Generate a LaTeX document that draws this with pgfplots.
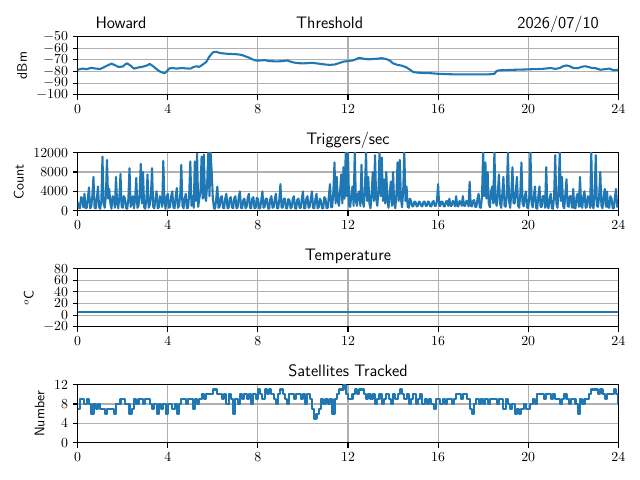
\documentclass[border=0pt]{standalone}
\usepackage{pgfplots}
\pgfplotsset{compat=1.18}
\definecolor{c0}{HTML}{1F77B4}
\definecolor{gridc}{HTML}{B0B0B0}
\newcommand{\fs}{\fontsize{10}{12}\selectfont}
\newcommand{\ft}{\fontsize{12}{14}\selectfont}
\pgfplotsset{
  panel/.style={
    scale only axis, width=5.406in, height=0.58in, anchor=south west,
    xmin=0, xmax=24, xtick={0,4,...,24},
    grid=major, major grid style={color=gridc, line width=0.8pt},
    axis line style={line width=0.8pt},
    tick align=outside, major tick length=3.5pt, tick pos=left,
    tick style={black, line width=0.8pt},
    ticklabel style={font=\fs},
    label style={font=\sffamily\fs},
    title style={font=\sffamily\ft, at={(0.5,1)}, anchor=base},
    scaled y ticks=false,
    /pgf/number format/1000 sep={},
  },
  dl/.style={color=c0, line width=1.5pt, line join=round, no marks},
}
\begin{document}
\begin{tikzpicture}
\useasboundingbox (0,0) rectangle (6.4in,4.8in);
% Threshold
\begin{axis}[panel, at={(0.777in,3.853in)}, ymin=-100, ymax=-50, ytick={-100,-90,...,-50}, ylabel={dBm}, clip=false]
\addplot[dl] coordinates {
(0,-78.5)(0.2,-77.5)(0.4,-78)(0.6,-76.8)(0.8,-77.5)(1.0,-77.8)(1.15,-76.5)(1.3,-75)(1.5,-73.2)(1.65,-74.5)
(1.8,-76)(2.0,-75.8)(2.1,-74)(2.2,-73)(2.35,-75)(2.5,-77.5)(2.7,-76.5)(2.9,-75.8)(3.05,-75)(3.2,-73.5)
(3.35,-75.5)(3.5,-78)(3.65,-80)(3.85,-81.5)(3.95,-80)(4.05,-77.5)(4.2,-77)(4.4,-77.5)(4.6,-77)(4.8,-77.3)
(5.0,-77.6)(5.1,-76.5)(5.25,-75.5)(5.4,-76)(5.55,-74)(5.7,-72)(5.85,-67)(6.0,-63.5)(6.15,-63)(6.3,-64)
(6.5,-64.5)(6.7,-64.8)(6.9,-65)(7.1,-65.2)(7.3,-65.8)(7.45,-67)(7.6,-68)(7.75,-69.5)(7.9,-70.5)(8.1,-70.5)
(8.3,-70.2)(8.5,-71)(8.7,-71.2)(8.9,-71.3)(9.1,-71)(9.3,-70.5)(9.45,-71.5)(9.6,-72.3)(9.8,-72.8)(10.0,-73)
(10.2,-72.8)(10.4,-72.5)(10.6,-73)(10.8,-73.5)(11.0,-74)(11.2,-74.3)(11.4,-74)(11.6,-72.8)(11.8,-71.5)(12.0,-71)
(12.2,-70.5)(12.35,-69.5)(12.5,-68.2)(12.7,-69)(12.9,-69.5)(13.1,-69.2)(13.3,-69)(13.5,-68.5)(13.7,-69.3)(13.85,-70.5)
(14.0,-73)(14.2,-74.3)(14.4,-75)(14.6,-76.5)(14.75,-78.5)(14.9,-80.5)(15.1,-81)(15.4,-81.3)(15.7,-81.5)(16.0,-82)
(16.4,-82.3)(16.8,-82.5)(17.2,-82.5)(17.6,-82.5)(18.0,-82.5)(18.3,-82.4)(18.5,-82)(18.6,-79.5)(18.7,-79)(19.0,-78.8)
(19.4,-78.5)(19.8,-78.3)(20.2,-78)(20.6,-77.8)(21.0,-77)(21.2,-77.8)(21.4,-77)(21.55,-75.5)(21.7,-74.8)(21.85,-75.5)
(22.0,-77)(22.2,-77.2)(22.4,-75.8)(22.55,-75.5)(22.8,-76.8)(23.0,-77.2)(23.2,-78.5)(23.4,-78)(23.6,-77.5)(23.8,-79)
(24.0,-78.5)};
\node[font=\sffamily\ft, anchor=base west] at ([yshift=6pt]rel axis cs:0.024,1) {Howard};
\node[font=\sffamily\ft, anchor=base] at ([yshift=6pt]rel axis cs:0.466,1) {Threshold};
\node[font=\sffamily\ft, anchor=base east] at ([yshift=6pt]rel axis cs:0.973,1) {2026/07/10};
\end{axis}
% Triggers
\begin{axis}[panel, at={(0.777in,2.693in)}, ymin=0, ymax=12000, ytick={0,4000,8000,12000}, ylabel={Count}, title={Triggers/sec}]
\addplot[dl] coordinates {
(0,1800)(0.05,600)(0.1,500)(0.15,2800)(0.2,2500)(0.25,700)(0.3,3500)(0.35,500)(0.4,600)(0.45,2600)(0.5,4800)(0.55,500)(0.6,800)(0.65,3000)(0.7,7000)(0.75,600)(0.8,500)(0.85,2500)(0.9,5000)(0.95,700)
(1,400)(1.05,2000)(1.1,11200)(1.15,1500)(1.2,600)(1.25,3000)(1.3,10500)(1.35,2500)(1.4,4500)(1.45,1500)(1.5,400)(1.55,3000)(1.6,2500)(1.65,600)(1.7,7000)(1.75,1500)(1.8,500)(1.85,2800)(1.9,7600)(1.95,800)
(2,600)(2.05,3000)(2.1,2500)(2.15,500)(2.2,400)(2.25,2500)(2.3,8800)(2.35,800)(2.4,1500)(2.45,3000)(2.5,500)(2.55,2500)(2.6,6800)(2.65,600)(2.7,1000)(2.75,3500)(2.8,9700)(2.85,1500)(2.9,8000)(2.95,700)
(3,400)(3.05,2500)(3.1,7500)(3.15,600)(3.2,1200)(3.25,3000)(3.3,8800)(3.35,800)(3.4,500)(3.45,2500)(3.5,4000)(3.55,500)(3.6,700)(3.65,3000)(3.7,2500)(3.75,800)(3.8,10300)(3.85,2000)(3.9,400)(3.95,2800)
(4,3500)(4.05,600)(4.1,800)(4.15,3000)(4.2,4000)(4.25,700)(4.3,500)(4.35,2800)(4.4,4700)(4.45,600)(4.5,1000)(4.55,3000)(4.6,9500)(4.65,1000)(4.7,500)(4.75,2500)(4.8,3500)(4.85,500)(4.9,600)(4.95,3500)
(5,10200)(5.05,1000)(5.1,3000)(5.15,600)(5.2,10200)(5.25,2000)(5.3,11800)(5.35,800)(5.4,2500)(5.45,4000)(5.5,11200)(5.55,2500)(5.6,11600)(5.65,3000)(5.7,2000)(5.75,6000)(5.8,12300)(5.85,3000)(5.9,12000)(5.95,8000)
(6,2500)(6.05,500)(6.1,400)(6.15,2500)(6.2,5000)(6.25,600)(6.3,800)(6.35,2800)(6.4,3000)(6.45,600)(6.5,500)(6.55,2500)(6.6,3500)(6.65,500)(6.7,600)(6.75,2500)(6.8,2800)(6.85,700)(6.9,500)(6.95,2500)
(7,3000)(7.05,500)(7.1,700)(7.15,2800)(7.2,4000)(7.25,600)(7.3,500)(7.35,2200)(7.4,2500)(7.45,500)(7.5,800)(7.55,2700)(7.6,3500)(7.65,600)(7.7,500)(7.75,2500)(7.8,2800)(7.85,500)(7.9,600)(7.95,2600)
(8,2500)(8.05,500)(8.1,500)(8.15,2200)(8.2,4000)(8.25,600)(8.3,800)(8.35,2500)(8.4,2500)(8.45,500)(8.5,400)(8.55,2400)(8.6,3000)(8.65,600)(8.7,700)(8.75,2500)(8.8,3500)(8.85,500)(8.9,500)(8.95,2200)
(9,5500)(9.05,700)(9.1,600)(9.15,2500)(9.2,2500)(9.25,500)(9.3,500)(9.35,2400)(9.4,2200)(9.45,500)(9.5,700)(9.55,2500)(9.6,3000)(9.65,500)(9.7,400)(9.75,2300)(9.8,2500)(9.85,600)(9.9,600)(9.95,2500)
(10,4000)(10.05,500)(10.1,500)(10.15,2500)(10.2,3000)(10.25,600)(10.3,800)(10.35,2500)(10.4,4000)(10.45,600)(10.5,500)(10.55,2300)(10.6,3500)(10.65,500)(10.7,700)(10.75,2500)(10.8,2000)(10.85,500)(10.9,500)(10.95,2800)
(11,2500)(11.05,500)(11.1,600)(11.15,3000)(11.2,5500)(11.25,700)(11.3,800)(11.35,4000)(11.4,10000)(11.45,1500)(11.5,7000)(11.55,2000)(11.6,1000)(11.65,4000)(11.7,7500)(11.75,1500)(11.8,9000)(11.85,2500)(11.9,12300)(11.95,3000)
(12,12300)(12.05,1000)(12.1,800)(12.15,3500)(12.2,5000)(12.25,1000)(12.3,12300)(12.35,2000)(12.4,1000)(12.45,3500)(12.5,4000)(12.55,1000)(12.6,9500)(12.65,2000)(12.7,800)(12.75,4000)(12.8,12300)(12.85,2000)(12.9,7000)(12.95,1500)
(13,500)(13.05,3500)(13.1,8000)(13.15,2000)(13.2,11500)(13.25,2500)(13.3,1000)(13.35,4000)(13.4,12300)(13.45,3000)(13.5,11000)(13.55,2000)(13.6,6500)(13.65,1500)(13.7,8000)(13.75,2000)(13.8,600)(13.85,3500)(13.9,6000)(13.95,1000)
(14,8000)(14.05,1500)(14.1,500)(14.15,3500)(14.2,10000)(14.25,2000)(14.3,10500)(14.35,2500)(14.4,700)(14.45,4000)(14.5,12300)(14.55,2000)(14.6,5000)(14.65,800)(14.7,600)(14.75,2500)(14.8,2000)(14.85,900)(14.9,900)(14.95,1900)
(15,1800)(15.05,900)(15.1,1000)(15.15,1900)(15.2,1700)(15.25,1000)(15.3,900)(15.35,1800)(15.4,1900)(15.45,1000)(15.5,1000)(15.55,1900)(15.6,1800)(15.65,900)(15.7,900)(15.75,1800)(15.8,2000)(15.85,1000)(15.9,1000)(15.95,2000)
(16,5500)(16.05,1000)(16.1,1000)(16.15,1900)(16.2,1800)(16.25,900)(16.3,900)(16.35,1900)(16.4,2000)(16.45,1000)(16.5,2500)(16.55,1000)(16.6,1000)(16.65,2000)(16.7,1800)(16.75,900)(16.8,3000)(16.85,1000)(16.9,900)(16.95,2000)
(17,1800)(17.05,1000)(17.1,3000)(17.15,1000)(17.2,1000)(17.25,2000)(17.3,2000)(17.35,900)(17.4,6000)(17.45,1000)(17.5,900)(17.55,2000)(17.6,2200)(17.65,800)(17.7,800)(17.75,2500)(17.8,3500)(17.85,700)(17.9,600)(17.95,3000)
(18,12300)(18.05,3000)(18.1,10000)(18.15,2500)(18.2,8000)(18.25,1500)(18.3,700)(18.35,4000)(18.4,5000)(18.45,1500)(18.5,12300)(18.55,2000)(18.6,1000)(18.65,3500)(18.7,7500)(18.75,1500)(18.8,600)(18.85,3500)(18.9,7000)(18.95,1000)
(19,800)(19.05,3500)(19.1,12300)(19.15,2000)(19.2,600)(19.25,3500)(19.3,9000)(19.35,1500)(19.4,1500)(19.45,4000)(19.5,7000)(19.55,1000)(19.6,600)(19.65,3500)(19.7,10000)(19.75,1500)(19.8,900)(19.85,3000)(19.9,4000)(19.95,700)
(20,500)(20.05,3000)(20.1,12300)(20.15,1500)(20.2,700)(20.25,3000)(20.3,5000)(20.35,600)(20.4,400)(20.45,3000)(20.5,5000)(20.55,800)(20.6,800)(20.65,3000)(20.7,3000)(20.75,600)(20.8,9000)(20.85,1000)(20.9,500)(20.95,2500)
(21,3500)(21.05,500)(21.1,400)(21.15,3000)(21.2,11500)(21.25,1500)(21.3,600)(21.35,4000)(21.4,12300)(21.45,2000)(21.5,7000)(21.55,1000)(21.6,500)(21.65,3500)(21.7,6500)(21.75,1000)(21.8,800)(21.85,3000)(21.9,3000)(21.95,600)
(22,4500)(22.05,500)(22.1,500)(22.15,3000)(22.2,3500)(22.25,800)(22.3,7000)(22.35,1000)(22.4,600)(22.45,3000)(22.5,4000)(22.55,600)(22.6,800)(22.65,3000)(22.7,2500)(22.75,600)(22.8,12300)(22.85,1000)(22.9,500)(22.95,3500)
(23,11500)(23.05,1000)(23.1,800)(23.15,3000)(23.2,8000)(23.25,1000)(23.3,500)(23.35,3000)(23.4,4500)(23.45,800)(23.5,4000)(23.55,700)(23.6,600)(23.65,3000)(23.7,2500)(23.75,500)(23.8,500)(23.85,2800)(23.9,4500)(23.95,800)
(24,1500)};
\end{axis}
% Temperature
\begin{axis}[panel, at={(0.777in,1.533in)}, ymin=-20, ymax=80, ytick={-20,0,...,80}, ylabel={$^o$C}, title={Temperature}]
\addplot[dl] coordinates {(0,5)(24,5)};
\end{axis}
% Satellites
\begin{axis}[panel, at={(0.777in,0.373in)}, ymin=0, ymax=12, ytick={0,4,8,12}, ylabel={Number}, title={Satellites Tracked}]
\addplot[dl, const plot] coordinates {
(0,7)(0.1,9)(0.2,9)(0.3,8)(0.4,9)(0.5,8)(0.6,6)(0.7,8)(0.8,7)(0.9,8)
(1,7)(1.1,7)(1.2,6)(1.3,7)(1.4,7)(1.5,7)(1.6,6)(1.7,8)(1.8,8)(1.9,9)
(2,9)(2.1,8)(2.2,8)(2.3,6)(2.4,7)(2.5,9)(2.6,8)(2.7,9)(2.8,9)(2.9,8)
(3,9)(3.1,9)(3.2,8)(3.3,7)(3.4,8)(3.5,6)(3.6,8)(3.7,7)(3.8,8)(3.9,6)
(4,8)(4.1,8)(4.2,7)(4.3,8)(4.4,6)(4.5,8)(4.6,9)(4.7,9)(4.8,8)(4.9,9)
(5,9)(5.1,7)(5.2,9)(5.3,8)(5.4,9)(5.5,10)(5.6,9)(5.7,10)(5.8,10)(5.9,10)
(6,11)(6.1,11)(6.2,10)(6.3,10)(6.4,9)(6.5,10)(6.6,8)(6.7,10)(6.8,9)(6.9,6)
(7,9)(7.1,8)(7.2,10)(7.3,9)(7.4,10)(7.5,9)(7.6,10)(7.7,8)(7.8,10)(7.9,9)
(8,11)(8.1,10)(8.2,9)(8.3,11)(8.4,10)(8.5,11)(8.6,10)(8.7,9)(8.8,8)(8.9,10)
(9,11)(9.1,10)(9.2,9)(9.3,8)(9.4,10)(9.5,10)(9.6,9)(9.7,10)(9.8,10)(9.9,9)
(10,10)(10.1,8)(10.2,10)(10.3,9)(10.4,7)(10.5,5)(10.6,6)(10.7,7)(10.8,9)(10.9,8)
(11,9)(11.1,8)(11.2,9)(11.3,6)(11.4,9)(11.5,10)(11.6,11)(11.7,11)(11.8,12)(11.9,10)
(12,9)(12.1,9)(12.2,10)(12.3,11)(12.4,10)(12.5,11)(12.6,11)(12.7,10)(12.8,9)(12.9,10)
(13,9)(13.1,10)(13.2,8)(13.3,9)(13.4,10)(13.5,8)(13.6,9)(13.7,10)(13.8,9)(13.9,8)
(14,10)(14.1,9)(14.2,10)(14.3,11)(14.4,10)(14.5,9)(14.6,10)(14.7,8)(14.8,9)(14.9,10)
(15,8)(15.1,9)(15.2,10)(15.3,8)(15.4,9)(15.5,8)(15.6,9)(15.7,8)(15.8,7)(15.9,9)
(16,9)(16.1,8)(16.2,9)(16.3,8)(16.4,9)(16.5,9)(16.6,8)(16.7,9)(16.8,10)(16.9,10)
(17,9)(17.1,10)(17.2,10)(17.3,9)(17.4,7)(17.5,6)(17.6,8)(17.7,9)(17.8,8)(17.9,9)
(18,8)(18.1,9)(18.2,8)(18.3,9)(18.4,9)(18.5,9)(18.6,8)(18.7,9)(18.8,9)(18.9,7)
(19,9)(19.1,8)(19.2,7)(19.3,8)(19.4,6)(19.5,7)(19.6,6)(19.7,7)(19.8,8)(19.9,7)
(20,7)(20.1,8)(20.2,9)(20.3,8)(20.4,10)(20.5,10)(20.6,10)(20.7,9)(20.8,10)(20.9,10)
(21,9)(21.1,10)(21.2,9)(21.3,9)(21.4,8)(21.5,9)(21.6,10)(21.7,9)(21.8,8)(21.9,9)
(22,9)(22.1,8)(22.2,6)(22.3,9)(22.4,8)(22.5,9)(22.6,9)(22.7,10)(22.8,11)(22.9,11)
(23,11)(23.1,10)(23.2,11)(23.3,10)(23.4,9)(23.5,10)(23.6,10)(23.7,10)(23.8,11)(23.9,10)
(24,8)};
\end{axis}
\end{tikzpicture}
\end{document}
